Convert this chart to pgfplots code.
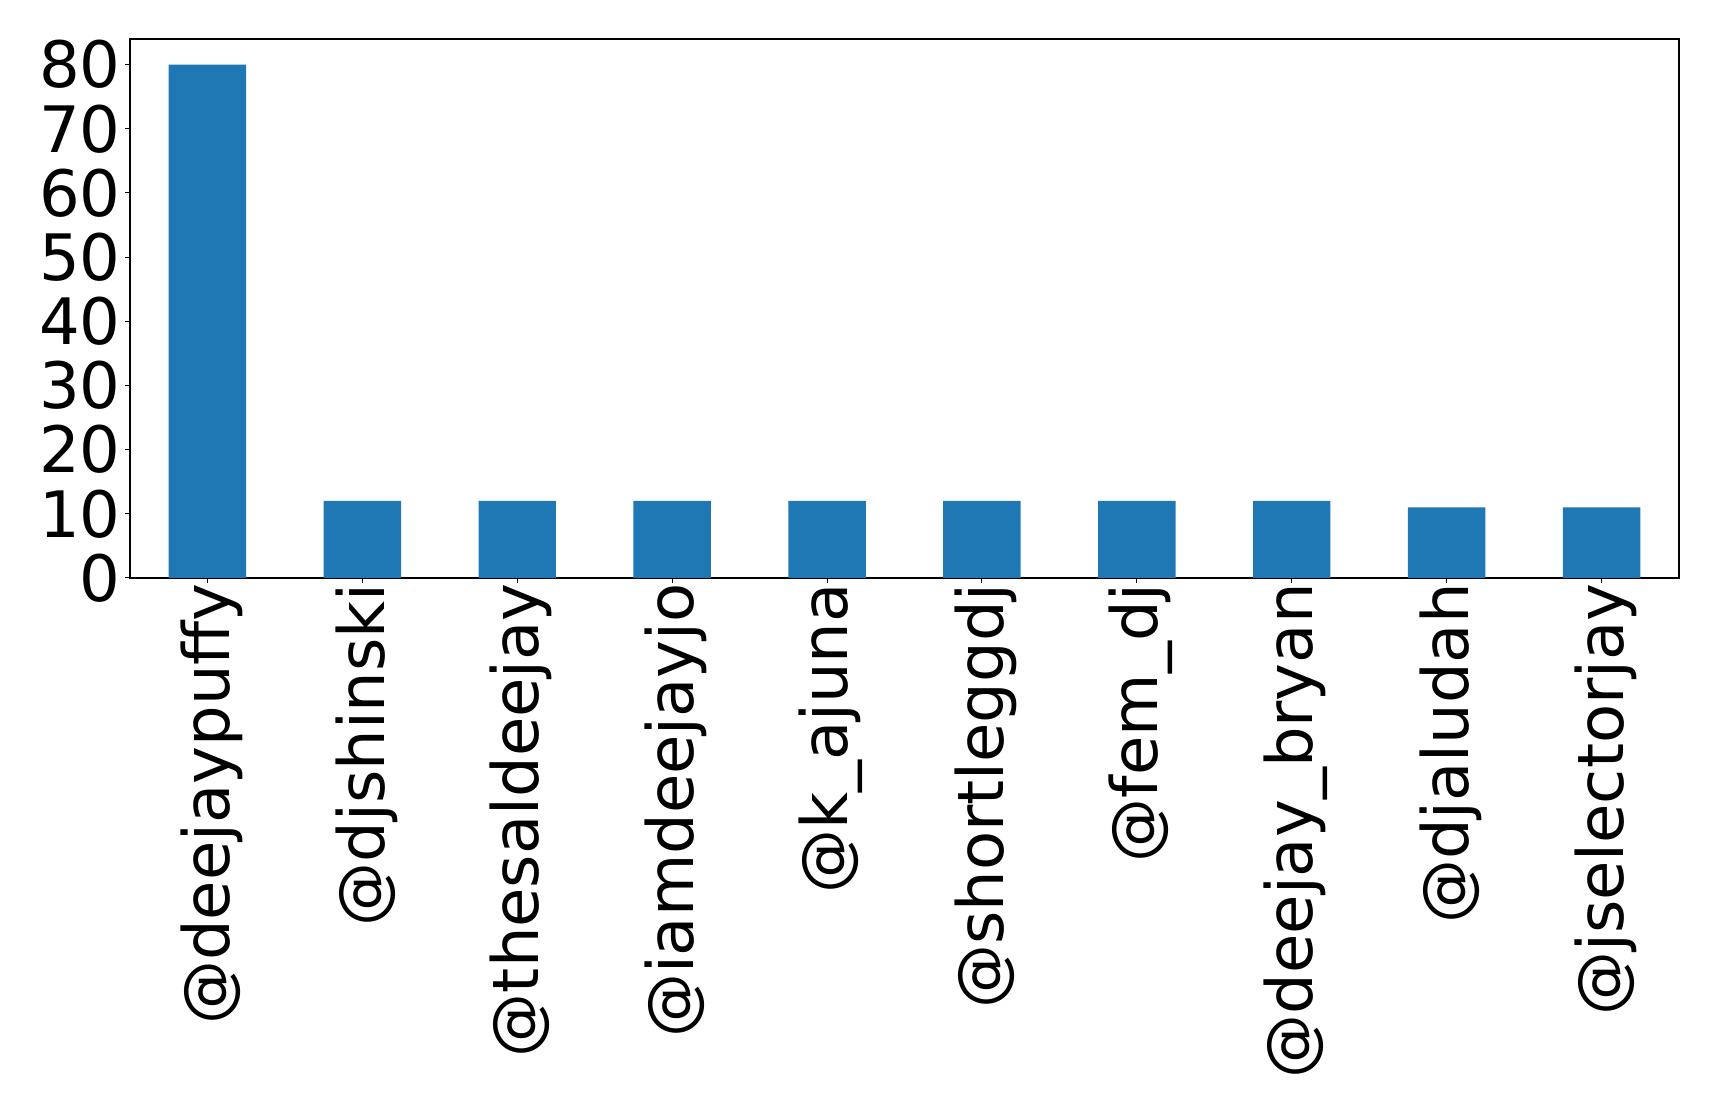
\documentclass[border=0pt]{standalone}
\usepackage{fontspec}
\setmainfont{DejaVu Sans}
\usepackage{pgfplots}
\pgfplotsset{compat=1.18}
\definecolor{barblue}{HTML}{1F77B4}

\begin{document}
\begin{tikzpicture}
\begin{axis}[
name=ax,
scale only axis,
width=774.5pt, height=269.5pt,
xmin=-0.5, xmax=9.5,
ymin=0, ymax=84,
ytick={0,10,20,30,40,50,60,70,80},
xtick=data,
xticklabels={@deejaypuffy,@djshinski,@thesaldeejay,@iamdeejayjo,@k\_ajuna,@shortleggdj,@fem\_dj,@deejay\_bryan,@djaludah,@jselectorjay},
/pgf/number format/assume math mode=true,
xtick pos=lower, ytick pos=left,
tick align=outside,
major tick length=2.5pt,
tick style={black, line width=0.5pt},
axis line style={line width=0.6pt},
ticklabel style={font=\fontsize{32}{38}\selectfont},
yticklabel style={inner sep=0pt, xshift=-2pt},
xticklabel style={rotate=90, anchor=east, inner sep=0pt, yshift=-2pt},
]
\addplot[ybar, bar width=0.5, fill=barblue, draw=none] coordinates {
(0,80) (1,12) (2,12) (3,12) (4,12) (5,12) (6,12) (7,12) (8,11) (9,11)
};
\end{axis}
\pgfresetboundingbox
\path[use as bounding box] ([xshift=-65pt,yshift=-266.5pt]ax.south west) rectangle ([xshift=20pt,yshift=19.5pt]ax.north east);
\end{tikzpicture}
\end{document}
